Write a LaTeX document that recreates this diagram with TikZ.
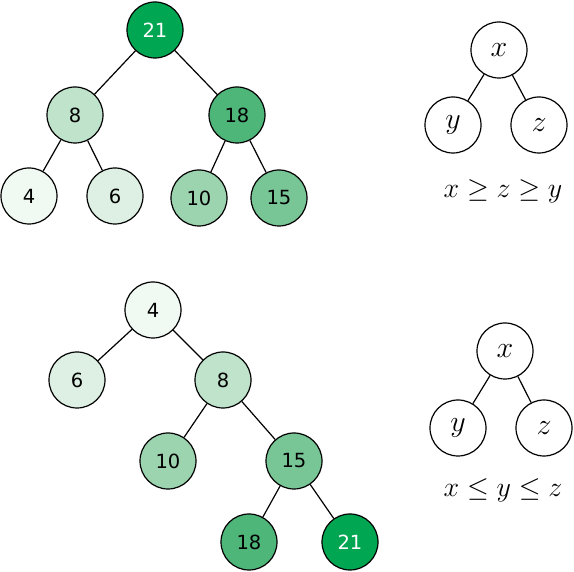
\RequirePackage{fix-cm}
\documentclass[tikz,border=0pt]{standalone}
\usepackage{fontspec}
\newfontfamily\numfont{DejaVu Sans}
\definecolor{c21}{HTML}{00A651}
\definecolor{c18}{HTML}{4FB67A}
\definecolor{c15}{HTML}{78C596}
\definecolor{c10}{HTML}{9CD4B0}
\definecolor{c8}{HTML}{BFE3CB}
\definecolor{c6}{HTML}{DDF0E3}
\definecolor{c4}{HTML}{F1F9F3}
\begin{document}
\begin{tikzpicture}[x=1pt,y=-1pt,
  nd/.style={circle,draw=black,line width=1.2pt,minimum size=56pt,inner sep=0pt,font=\numfont\fontsize{19.5}{22}\selectfont},
  vn/.style={circle,draw=black,line width=1.2pt,minimum size=56pt,inner sep=0pt,font=\fontsize{30}{34}\selectfont},
  lbl/.style={font=\fontsize{28}{32}\selectfont,inner sep=0pt},
  ed/.style={line width=1.2pt}]
\useasboundingbox (0,0) rectangle (574,572);
% top tree
\node[nd,fill=c21,text=white] (a21) at (155,30) {21};
\node[nd,fill=c8] (a8) at (75,115) {8};
\node[nd,fill=c18] (a18) at (237,115) {18};
\node[nd,fill=c4] (a4) at (29,196) {4};
\node[nd,fill=c6] (a6) at (115,196) {6};
\node[nd,fill=c10] (a10) at (199,198) {10};
\node[nd,fill=c15] (a15) at (279,198) {15};
\draw[ed] (a21)--(a8) (a21)--(a18) (a8)--(a4) (a8)--(a6) (a18)--(a10) (a18)--(a15);
% top right
\node[vn] (tx) at (499,50) {$x$};
\node[vn] (ty) at (453,125) {$y$};
\node[vn] (tz) at (539,125) {$z$};
\draw[ed] (tx)--(ty) (tx)--(tz);
\node[lbl] (t1) at (503,191) {$x\geq z\geq y$};
% bottom tree
\node[nd,fill=c4] (b4) at (153,310) {4};
\node[nd,fill=c6] (b6) at (77,380) {6};
\node[nd,fill=c8] (b8) at (223,380) {8};
\node[nd,fill=c10] (b10) at (168,461) {10};
\node[nd,fill=c15] (b15) at (294,461) {15};
\node[nd,fill=c18] (b18) at (249,542) {18};
\node[nd,fill=c21,text=white] (b21) at (350,542) {21};
\draw[ed] (b4)--(b6) (b4)--(b8) (b8)--(b10) (b8)--(b15) (b15)--(b18) (b15)--(b21);
% bottom right
\node[vn] (bx) at (505,351) {$x$};
\node[vn] (by) at (458,428) {$y$};
\node[vn] (bz) at (544,428) {$z$};
\draw[ed] (bx)--(by) (bx)--(bz);
\node[lbl] (t2) at (503,490) {$x\leq y\leq z$};
\end{tikzpicture}
\end{document}
